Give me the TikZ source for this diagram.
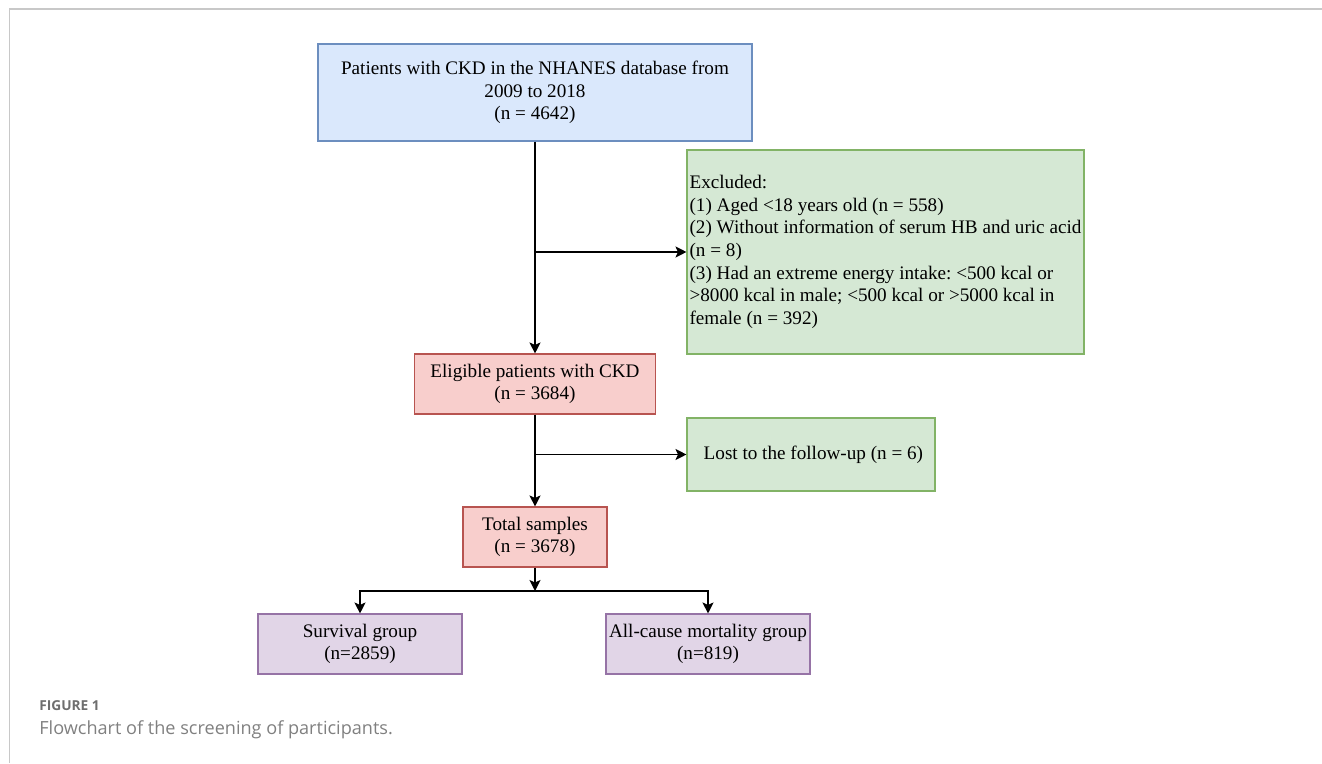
\documentclass[tikz,border=0pt]{standalone}
\usepackage{fontspec}
\setmainfont{Liberation Serif}
\newfontfamily\capfont{Open Sans}
\usetikzlibrary{arrows.meta}
\frenchspacing

\definecolor{bluefill}{HTML}{DAE8FC}
\definecolor{blueline}{HTML}{6C8EBF}
\definecolor{greenfill}{HTML}{D5E8D4}
\definecolor{greenline}{HTML}{82B366}
\definecolor{redfill}{HTML}{F8CECC}
\definecolor{redline}{HTML}{B85450}
\definecolor{purplefill}{HTML}{E1D5E7}
\definecolor{purpleline}{HTML}{9673A6}
\definecolor{framegray}{HTML}{C8C8C8}
\definecolor{capgray}{HTML}{6E6E6E}
\definecolor{capgraylight}{HTML}{808080}

\begin{document}
\begin{tikzpicture}[
	box/.style={rectangle, draw, line width=0.6pt, inner sep=1pt, align=center,
		font=\fontsize{10.9}{12.9}\selectfont},
	bluebox/.style={box, fill=bluefill, draw=blueline},
	greenbox/.style={box, fill=greenfill, draw=greenline},
	redbox/.style={box, fill=redfill, draw=redline},
	purplebox/.style={box, fill=purplefill, draw=purpleline},
	link/.style={draw, line width=0.7pt, -{Stealth[length=2.2mm, width=2.2mm, inset=0.5mm]}},
	caption/.style={anchor=base west, inner sep=0pt}
]

\useasboundingbox (0,0) rectangle (26.44,15.26);

% frame of the figure
\draw[framegray, line width=0.6pt] (0.19,0) -- (0.19,15.08) -- (26.44,15.08);

% boxes
\node[bluebox, minimum width=8.68cm, minimum height=1.94cm] (ckd) at(10.70,13.41)
	{Patients with CKD in the NHANES database from\\2009 to 2018\\(n = 4642)};
\node[greenbox, minimum width=7.94cm, minimum height=4.08cm, align=left] (excl) at(17.71,10.22)
	{Excluded:\\
	(1) Aged <18 years old (n = 558)\\
	(2) Without information of serum HB and uric acid\\
	(n = 8)\\
	(3) Had an extreme energy intake: <500 kcal or\\
	>8000 kcal in male; <500 kcal or >5000 kcal in\\
	female (n = 392)};
\node[redbox, minimum width=4.82cm, minimum height=1.2cm] (elig) at(10.70,7.58)
	{Eligible patients with CKD\\(n = 3684)};
\node[greenbox, minimum width=4.96cm, minimum height=1.46cm] (lost) at(16.22,6.17)
	{\ Lost to the follow-up (n = 6)};
\node[redbox, minimum width=2.88cm, minimum height=1.2cm] (total) at(10.70,4.52)
	{Total samples\\(n = 3678)};
\node[purplebox, minimum width=4.08cm, minimum height=1.2cm] (surv) at(7.20,2.38)
	{Survival group\\(n=2859)};
\node[purplebox, minimum width=4.08cm, minimum height=1.2cm] (dead) at(14.16,2.38)
	{All-cause mortality group\\(n=819)};

\coordinate (split) at(10.70,3.44);

% connectors
\foreach \u \v in {
ckd/elig%
,elig/total%
,total/split%
}{
	\draw[link] (\u) -- (\v);
}
\draw[link] (ckd.south |- excl.west) -- (excl.west);
\draw[link] (elig.south |- lost.west) -- (lost.west);
\draw[link] (split) -| (surv);
\draw[link] (split) -| (dead);

% caption
\node[caption, text=capgray, font=\capfont\bfseries\fontsize{7.8}{9}\selectfont] (fig) at(0.78,1.05) {FIGURE 1};
\node[caption, text=capgraylight, font=\capfont\fontsize{10.3}{12}\selectfont] (cap) at(0.78,0.58)
	{Flowchart of the screening of participants.};

\end{tikzpicture}
\end{document}
